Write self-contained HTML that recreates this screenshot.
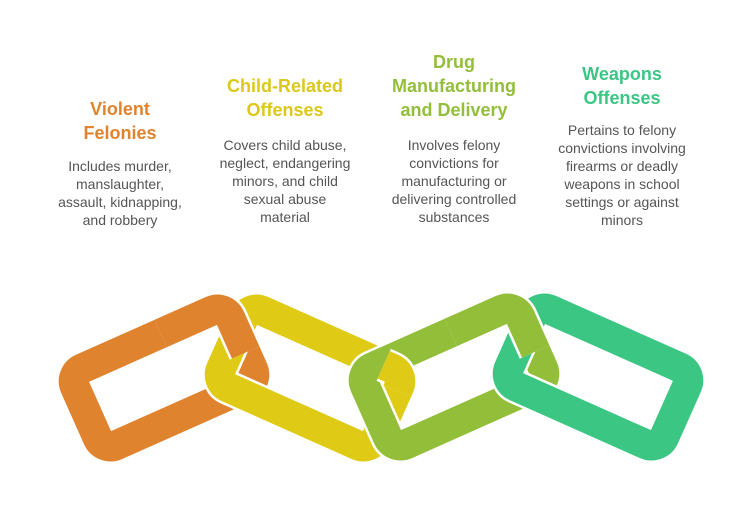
<!DOCTYPE html>
<html><head><meta charset="utf-8"><style>
html,body{margin:0;padding:0;background:#fff;}
svg{display:block;}
text{font-family:"Liberation Sans",sans-serif;text-anchor:middle;}
.t{font-size:18px;font-weight:bold;}
.b{font-size:14px;fill:#555;}
</style></head><body>
<svg width="756" height="517" viewBox="0 0 756 517" xmlns="http://www.w3.org/2000/svg">
<defs>
<rect id="lk" x="-85" y="-42" width="170" height="84" rx="14" ry="14"/>
<clipPath id="cu"><rect x="15" y="-65" width="100" height="75"/></clipPath>
<clipPath id="cy"><rect x="62" y="-65" width="60" height="42"/></clipPath>
</defs>
<g fill="none">
<g transform="translate(164,378) rotate(-24)"><use href="#lk" stroke="#fff" stroke-width="35"/><use href="#lk" stroke="#E0832F" stroke-width="30"/></g>
<g transform="translate(310,378) rotate(24)"><use href="#lk" stroke="#fff" stroke-width="35"/><use href="#lk" stroke="#DFCB15" stroke-width="30"/></g>
<g transform="translate(164,378) rotate(-24)"><g clip-path="url(#cu)"><use href="#lk" stroke="#fff" stroke-width="35"/><use href="#lk" stroke="#E0832F" stroke-width="30"/></g></g>
<g transform="translate(454,377) rotate(-24)"><use href="#lk" stroke="#fff" stroke-width="35"/><use href="#lk" stroke="#93BE3A" stroke-width="30"/></g>
<g transform="translate(310,378) rotate(24)"><g clip-path="url(#cy)"><use href="#lk" stroke="#fff" stroke-width="35"/><use href="#lk" stroke="#DFCB15" stroke-width="30"/></g></g>
<g transform="translate(598,377) rotate(24)"><use href="#lk" stroke="#fff" stroke-width="35"/><use href="#lk" stroke="#3CC684" stroke-width="30"/></g>
<g transform="translate(454,377) rotate(-24)"><g clip-path="url(#cu)"><use href="#lk" stroke="#fff" stroke-width="35"/><use href="#lk" stroke="#93BE3A" stroke-width="30"/></g></g>
</g>
<g class="t" fill="#E0832F"><text x="120" y="115">Violent</text><text x="120" y="139">Felonies</text></g>
<g class="b"><text x="120" y="171">Includes murder,</text><text x="120" y="189">manslaughter,</text><text x="120" y="207">assault, kidnapping,</text><text x="120" y="225">and robbery</text></g>
<g class="t" fill="#DCC81A"><text x="285" y="92">Child-Related</text><text x="285" y="116">Offenses</text></g>
<g class="b"><text x="285" y="150">Covers child abuse,</text><text x="285" y="168">neglect, endangering</text><text x="285" y="186">minors, and child</text><text x="285" y="204">sexual abuse</text><text x="285" y="222">material</text></g>
<g class="t" fill="#93BE3A"><text x="454" y="68">Drug</text><text x="454" y="92">Manufacturing</text><text x="454" y="116">and Delivery</text></g>
<g class="b"><text x="454" y="150">Involves felony</text><text x="454" y="168">convictions for</text><text x="454" y="186">manufacturing or</text><text x="454" y="204">delivering controlled</text><text x="454" y="222">substances</text></g>
<g class="t" fill="#3CC684"><text x="622" y="80">Weapons</text><text x="622" y="104">Offenses</text></g>
<g class="b"><text x="622" y="135">Pertains to felony</text><text x="622" y="153">convictions involving</text><text x="622" y="171">firearms or deadly</text><text x="622" y="189">weapons in school</text><text x="622" y="207">settings or against</text><text x="622" y="225">minors</text></g>
</svg>
</body></html>
